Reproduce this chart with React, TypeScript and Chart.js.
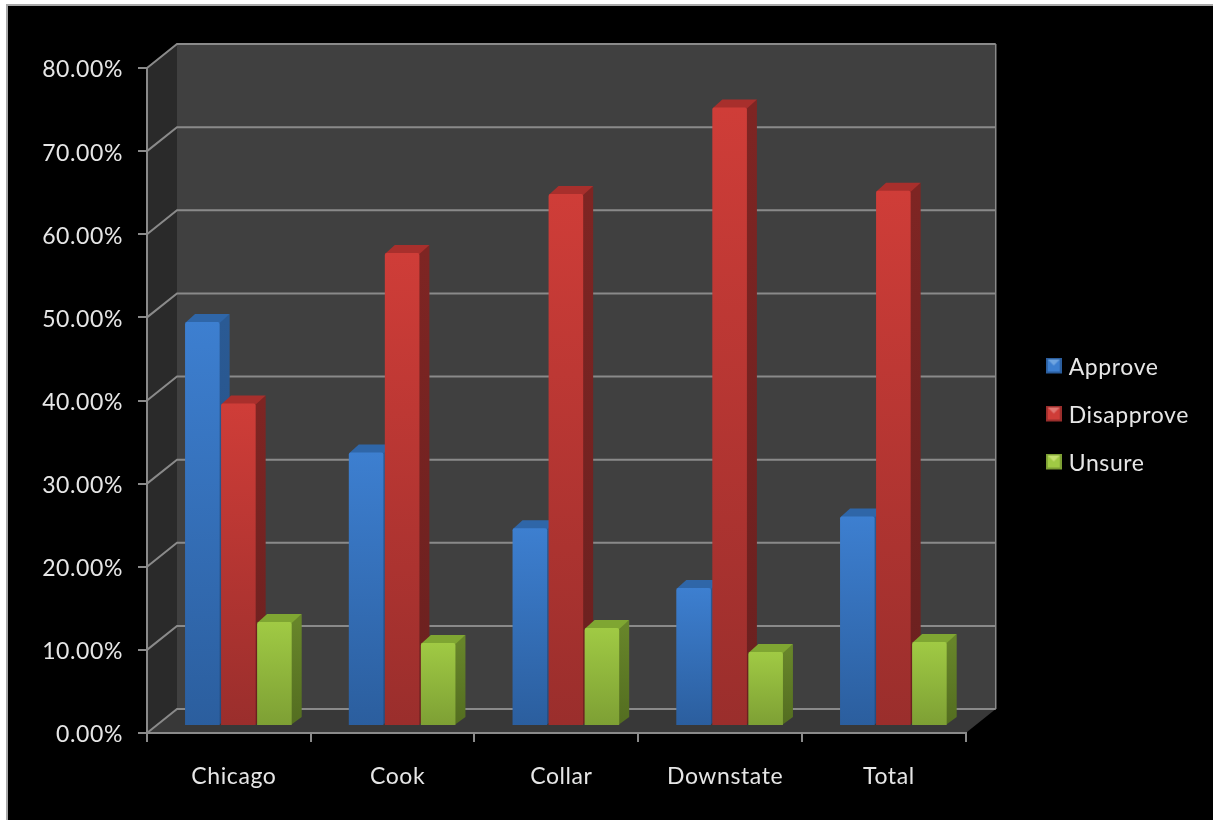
import React, { useEffect, useRef } from "react";
import { Chart, registerables } from "chart.js";

Chart.register(...registerables);

const categories = ["Chicago", "Cook", "Collar", "Downstate", "Total"];
const approve = [48.6, 32.9, 23.8, 16.6, 25.2];
const disapprove = [38.8, 56.9, 64.0, 74.4, 64.4];
const unsure = [12.5, 10.0, 11.8, 8.9, 10.1];

const palette = [
  { top: "#3d7fd0", bottom: "#2b5e9e", side: "#2a5a94", sideLow: "#234c80", cap: "#2f66a8", light: "#6ea4e0" },
  { top: "#cf3d38", bottom: "#9a2e2c", side: "#7e2523", sideLow: "#6a201f", cap: "#a82f2c", light: "#e07570" },
  { top: "#a0ca44", bottom: "#7d9f34", side: "#67852a", sideLow: "#536d20", cap: "#7fa632", light: "#c5e070" },
];

const DX = 30, DY = -24;       // depth of the floor and left wall
const BX = 9.5, BY = -7;       // bars stand inside the floor
const SX = 10, SY = -8;        // depth of each bar
const FONT = { family: "Lato, Carlito, sans-serif", size: 23 };
const SPACING = "0.6px";
const TEXT = "#e6e6e6";
const LINE = "#8a8a8a";
const LEGEND_SHIFT = 59.5;

function marker(c: (typeof palette)[number]) {
  const m = document.createElement("canvas");
  m.width = 16; m.height = 20;
  const g = m.getContext("2d")!;
  g.fillStyle = c.bottom;
  g.fillRect(0, 0, 16, 16);
  g.fillStyle = c.top;
  g.fillRect(2, 2, 12, 12);
  g.fillStyle = c.light;
  g.beginPath(); g.moveTo(2, 2); g.lineTo(14, 2); g.lineTo(8, 8); g.closePath(); g.fill();
  return m;
}

function poly(ctx: CanvasRenderingContext2D, pts: number[][], fill: any) {
  ctx.fillStyle = fill;
  ctx.beginPath();
  pts.forEach(([x, y], i) => (i ? ctx.lineTo(x, y) : ctx.moveTo(x, y)));
  ctx.closePath();
  ctx.fill();
}

const stage = {
  id: "stage",
  beforeLayout(chart: any) {
    chart.ctx.letterSpacing = SPACING;
  },
  afterLayout(chart: any) {
    const lg = chart.legend;
    lg.top -= 15; lg.bottom -= 15;
    lg.left += LEGEND_SHIFT; lg.right += LEGEND_SHIFT;
  },
  beforeDraw(chart: any) {
    const { ctx, chartArea: a, scales, width, height } = chart;
    ctx.letterSpacing = SPACING;
    ctx.save();
    ctx.fillStyle = "#ffffff"; ctx.fillRect(0, 0, width, height);
    ctx.fillStyle = "#000000"; ctx.fillRect(7, 5, width - 7, height - 5);
    ctx.fillStyle = "#a8a8a8"; ctx.fillRect(6, 4, width - 6, 2); ctx.fillRect(6, 4, 2, height - 4);
    const y0 = a.bottom, y1 = a.top, l = a.left, r = a.right;
    poly(ctx, [[l + DX, y1 + DY], [r + DX, y1 + DY], [r + DX, y0 + DY], [l + DX, y0 + DY]], "#404040");
    poly(ctx, [[l, y1], [l + DX, y1 + DY], [l + DX, y0 + DY], [l, y0]], "#2a2a2a");
    poly(ctx, [[l, y0], [l + DX, y0 + DY], [r + DX, y0 + DY], [r, y0]], "#383838");
    ctx.strokeStyle = LINE; ctx.lineWidth = 2;
    scales.y.ticks.forEach((t: any) => {
      const p = scales.y.getPixelForValue(t.value);
      ctx.beginPath();
      ctx.moveTo(l, p); ctx.lineTo(l + DX, p + DY); ctx.lineTo(r + DX, p + DY);
      ctx.stroke();
    });
    ctx.lineWidth = 1.5;
    ctx.beginPath(); ctx.moveTo(r + DX, y1 + DY); ctx.lineTo(r + DX, y0 + DY); ctx.stroke();
    ctx.restore();
  },
  beforeDatasetsDraw(chart: any) {
    const { ctx } = chart;
    ctx.save();
    ctx.translate(BX, BY);
    palette.forEach((c, i) => {
      chart.getDatasetMeta(i).data.forEach((b: any) => {
        const L = b.x - b.width / 2, R = b.x + b.width / 2;
        const g = ctx.createLinearGradient(0, b.y, 0, b.base);
        g.addColorStop(0, c.side); g.addColorStop(1, c.sideLow);
        poly(ctx, [[R - 1, b.y], [R + SX, b.y + SY], [R + SX, b.base + SY], [R - 1, b.base]], g);
        poly(ctx, [[L, b.y + 1], [L + SX, b.y + SY], [R + SX, b.y + SY], [R, b.y + 1]], c.cap);
      });
    });
    ctx.restore();
  },
  beforeDatasetDraw(chart: any) {
    chart.ctx.save();
    chart.ctx.translate(BX, BY);
  },
  afterDatasetDraw(chart: any) {
    chart.ctx.restore();
  },
};

function fillFor(i: number) {
  return (ctx: any) => {
    if (ctx.type !== "data") return palette[i].top;
    const y = ctx.chart.scales.y;
    const g = ctx.chart.ctx.createLinearGradient(0, y.getPixelForValue(ctx.raw), 0, y.getPixelForValue(0));
    g.addColorStop(0, palette[i].top);
    g.addColorStop(1, palette[i].bottom);
    return g;
  };
}

export default function App() {
  const ref = useRef<HTMLCanvasElement>(null);
  useEffect(() => {
    const markers = palette.map(marker);
    const series = [
      { label: "Approve", data: approve },
      { label: "Disapprove", data: disapprove },
      { label: "Unsure", data: unsure },
    ];
    const chart = new Chart(ref.current!, {
      type: "bar",
      data: {
        labels: categories,
        datasets: series.map((s, i) => ({
          ...s,
          clip: false,
          backgroundColor: fillFor(i),
          borderRadius: 2,
          barPercentage: 0.96,
          categoryPercentage: 0.66,
        })) as any,
      },
      options: {
        animation: false,
        responsive: false,
        devicePixelRatio: 1,
        layout: { padding: { left: 27, top: 68, bottom: 27, right: 73.5 } },
        plugins: {
          tooltip: { enabled: false },
          legend: {
            position: "right",
            labels: {
              font: FONT,
              color: TEXT,
              usePointStyle: true,
              pointStyleWidth: 7,
              boxHeight: 16,
              padding: 25,
              generateLabels: () =>
                series.map((s, i) => ({
                  text: s.label,
                  pointStyle: markers[i],
                  fontColor: TEXT,
                  datasetIndex: i,
                  lineWidth: 0,
                })) as any,
            },
          },
        },
        scales: {
          x: {
            grid: { drawOnChartArea: false, tickLength: 9, color: LINE, lineWidth: 2 },
            border: { color: LINE, width: 2 },
            ticks: { font: FONT, color: TEXT, padding: 21, labelOffset: 5, maxRotation: 0 },
            afterFit: (s: any) => { s.height = 60; },
          },
          y: {
            min: 0,
            max: 80,
            grid: { drawOnChartArea: false, tickLength: 9, color: LINE, lineWidth: 2 },
            border: { color: LINE, width: 2 },
            ticks: {
              font: FONT,
              color: TEXT,
              padding: 15,
              stepSize: 10,
              labelOffset: 2,
              callback: (v: any) => Number(v).toFixed(2) + "%",
            },
            afterFit: (s: any) => { s.width = 120; },
          },
        },
      },
      plugins: [stage],
    });
    return () => chart.destroy();
  }, []);
  return (
    <canvas
      ref={ref}
      width={1213}
      height={820}
      style={{ position: "fixed", left: 0, top: 0, width: 1213, height: 820, filter: "blur(0.5px)" }}
    />
  );
}
